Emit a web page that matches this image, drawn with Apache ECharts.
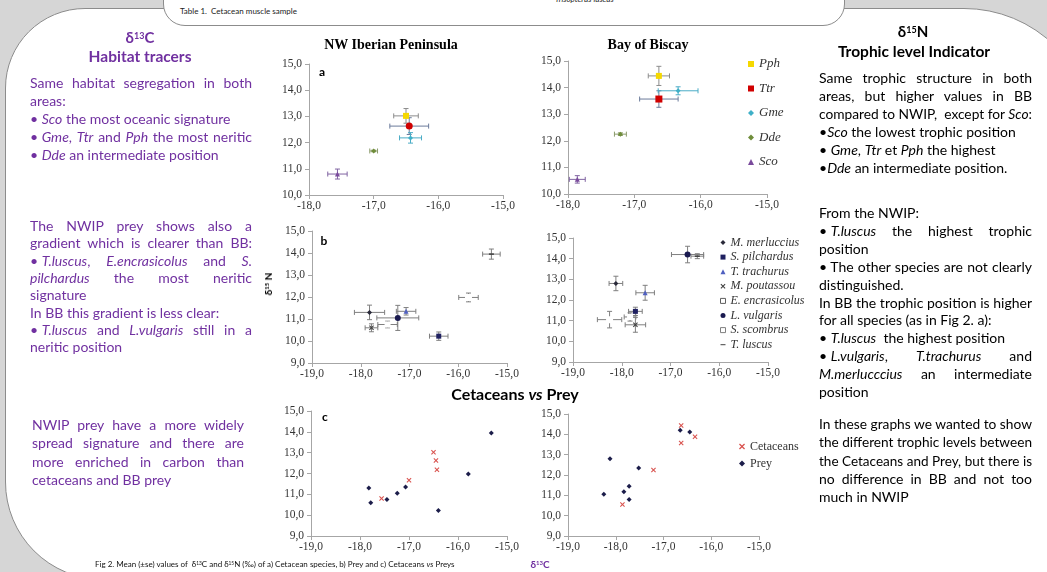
<!DOCTYPE html>
<html><head><meta charset="utf-8">
<script src="https://cdn.jsdelivr.net/npm/echarts@6/dist/echarts.min.js"></script>
<style>
html,body{margin:0;padding:0;width:1047px;height:572px;overflow:hidden;background:#d6d6d6;font-family:Lato,'Open Sans',sans-serif;}
#panel{position:absolute;left:5px;top:8px;width:1087px;height:570px;background:#fff;border:1px solid #8c8c8c;border-radius:80px 130px 0 98px;}
#tbox{position:absolute;left:163px;top:-30px;width:680px;height:54px;background:#fff;border:1px solid #8c8c8c;border-radius:0 0 22px 22px;}
#chart{position:absolute;left:0;top:0;width:1047px;height:572px;}
.t{position:absolute;white-space:nowrap;}
.c{transform:translate(-50%,-50%);}
.ln{position:absolute;height:18px;line-height:18px;white-space:nowrap;}
.ib{display:inline-block;}
sup{font-size:0.6em;vertical-align:0.5em;line-height:0;}
</style></head>
<body>
<div id="panel"></div>
<div id="tbox"></div>
<div class="t" style="left:180px;top:6px;font-size:8px;color:#222;">Table 1.&nbsp; Cetacean muscle sample</div>
<div class="t" style="left:555px;top:-6px;font-size:8px;color:#222;font-style:italic;">Trisopterus luscus</div>
<div id="chart"></div>
<div id="texts"></div>
<script>
// ---------------- DATA ----------------
const cetSpecies = ['Pph','Ttr','Gme','Dde','Sco'];
const nwipCetC   = [-16.50,-16.45,-16.43,-17.00,-17.56];
const nwipCetN   = [13.02,12.63,12.18,11.68,10.80];
const nwipCetCse = [0.19,0.30,0.17,0.06,0.15];
const nwipCetNse = [0.28,0.32,0.20,0.03,0.19];
const bbCetC     = [-16.63,-16.63,-16.34,-17.21,-17.86];
const bbCetN     = [14.44,13.57,13.88,12.25,10.55];
const bbCetCse   = [0.16,0.29,0.30,0.09,0.12];
const bbCetNse   = [0.36,0.31,0.15,0.05,0.14];

const preySpecies = ['M. merluccius','S. pilchardus','T. trachurus','M. poutassou','E. encrasicolus','L. vulgaris','S. scombrus','T. luscus'];
const nwipPreyC   = [-17.82,-16.40,-17.07,-17.78,-15.79,-17.24,-17.45,-15.32];
const nwipPreyN   = [11.30,10.22,11.35,10.60,11.98,11.05,10.75,13.95];
const nwipPreyCse = [0.31,0.19,0.20,0.13,0.20,0.43,0.20,0.18];
const nwipPreyNse = [0.33,0.19,0.17,0.18,0.20,0.57,0.15,0.23];
const bbPreyC     = [-18.12,-17.72,-17.52,-17.72,-18.25,-16.65,-17.83,-16.45];
const bbPreyN     = [12.80,11.45,12.35,10.80,11.05,14.20,11.18,14.12];
const bbPreyCse   = [0.14,0.14,0.19,0.21,0.25,0.33,0.12,0.13];
const bbPreyNse   = [0.35,0.20,0.36,0.36,0.40,0.40,0.20,0.12];

const groupNames = ['Cetaceans','Prey'];
const xMinA = -18, xMinBC = -19, xMax = -15;
const yMinA = 10, yMinBC = 9, yMax = 15;

// ---------------- STYLES ----------------
const cetColor = ['#f5d800','#d00000','#3fb0c8','#6f8d3a','#7a4a9c'];
const cetErrColor = ['#8c8c8c','#6b7b9b','#4bacc6','#8a9a6a','#8064a2'];
const cetSymNW = ['rect','circle','diamond','diamond','triangle'];
const cetSymBB = ['rect','rect','diamond','diamond','triangle'];
const cetSize = [6,7,5,5,5];
const X_PATH = 'path://M0,1.5L1.5,0L5,3.5L8.5,0L10,1.5L6.5,5L10,8.5L8.5,10L5,6.5L1.5,10L0,8.5L3.5,5Z';
const DASH_PATH = 'path://M0,0L10,0L10,2L0,2Z';
const preyColor = ['#2a2a3a','#1f2060','#5060c0','#404040','#606060','#1a1a50','#808080','#404040'];
const preySym = ['diamond','rect','triangle',X_PATH,'emptyRect','circle','emptyRect',DASH_PATH];
const preySize = [5,5,5,5,5,6,4,[5,1.5]];

// ---------------- TEXT ----------------
const P = '#7030a0';
const html = [];
function add(s){html.push(s);}
add(`<div class="t c" style="left:140px;top:37px;color:${P};font-weight:bold;font-size:15px;">δ<sup>13</sup>C</div>`);
add(`<div class="t c" style="left:140px;top:56px;color:${P};font-weight:bold;font-size:15.5px;">Habitat tracers</div>`);
add(`<div class="t c" style="left:913px;top:31px;color:#000;font-weight:bold;font-size:15px;">δ<sup>15</sup>N</div>`);
add(`<div class="t c" style="left:914px;top:51px;color:#000;font-weight:bold;font-size:15.5px;">Trophic level Indicator</div>`);
add(`<div class="t c" style="left:391px;top:45px;color:#000;font-weight:bold;font-size:14px;font-family:'Liberation Serif',serif;">NW Iberian Peninsula</div>`);
add(`<div class="t c" style="left:648px;top:45px;color:#000;font-weight:bold;font-size:14px;font-family:'Liberation Serif',serif;">Bay of Biscay</div>`);
add(`<div class="t c" style="left:322px;top:71px;color:#000;font-weight:bold;font-size:12px;">a</div>`);
add(`<div class="t c" style="left:324px;top:240px;color:#000;font-weight:bold;font-size:12px;">b</div>`);
add(`<div class="t c" style="left:325px;top:416px;color:#000;font-weight:bold;font-size:12px;">c</div>`);
add(`<div class="t c" style="left:515px;top:393px;color:#000;font-weight:bold;font-size:16px;">Cetaceans <i>vs</i> Prey</div>`);
add(`<div class="t c" style="left:268px;top:284px;color:#000;font-weight:bold;font-size:10px;transform:translate(-50%,-50%) rotate(-90deg);">δ<sup>15</sup> N</div>`);
add(`<div class="t c" style="left:540px;top:564px;color:${P};font-weight:bold;font-size:10px;">δ<sup>13</sup>C</div>`);
add(`<div class="t" style="left:95px;top:559px;color:#111;font-size:8px;">Fig 2. Mean (±se) values of&nbsp; δ<sup>13</sup>C and δ<sup>15</sup>N (‰) of a) Cetacean species, b) Prey and c) Cetaceans <i>vs</i> Preys</div>`);

const blocks = [
 {x:30,w:222,y0:83,step:17.9,color:P,lines:[
  ['Same habitat segregation in both',1],
  ['areas:',0],
  ['•&nbsp;<i>Sco</i> the most oceanic signature',0],
  ['•&nbsp;<i>Gme</i>, <i>Ttr</i> and <i>Pph</i> the most neritic',1],
  ['•&nbsp;<i>Dde</i> an intermediate position',0]]},
 {x:30,w:222,y0:226,step:17.3,color:P,lines:[
  ['The NWIP prey shows also a',1],
  ['gradient which is clearer than BB:',1],
  ['•&nbsp;<i>T.luscus</i>, <i>E.encrasicolus</i> and <i>S.</i>',1],
  ['<i>pilchardus</i> the most neritic',1],
  ['signature',0],
  ['In BB this gradient is less clear:',0],
  ['•&nbsp;<i>T.luscus</i> and <i>L.vulgaris</i> still in a',1],
  ['neritic position',0]]},
 {x:32,w:212,y0:425,step:18.3,color:P,lines:[
  ['NWIP prey have a more widely',1],
  ['spread signature and there are',1],
  ['more enriched in carbon than',1],
  ['cetaceans and BB prey',0]]},
 {x:819,w:213,y0:78,step:18,color:'#000',lines:[
  ['Same trophic structure in both',1],
  ['areas, but higher values in BB',1],
  ['compared to NWIP,&nbsp; except for <i>Sco</i>:',1],
  ['•<i>Sco</i> the lowest trophic position',0],
  ['•&nbsp;<i>Gme</i>, <i>Ttr</i> et <i>Pph</i> the highest',0],
  ['•<i>Dde</i> an intermediate position.',0]]},
 {x:819,w:213,y0:213,step:17.9,color:'#000',lines:[
  ['From the NWIP:',0],
  ['•&nbsp;<i>T.luscus</i> the highest trophic',1],
  ['position',0],
  ['•&nbsp;The other species are not clearly',1],
  ['distinguished.',0],
  ['In BB the trophic position is higher',1],
  ['for all species (as in Fig 2. a):',0],
  ['•&nbsp;<i>T.luscus</i>&nbsp; the highest position',0],
  ['•&nbsp;<i>L.vulgaris</i>, <i>T.trachurus</i> and',1],
  ['<i>M.merlucccius</i> an intermediate',1],
  ['position',0]]},
 {x:819,w:213,y0:424,step:18.25,color:'#000',lines:[
  ['In these graphs we wanted to show',1],
  ['the different trophic levels between',1],
  ['the Cetaceans and Prey, but there is',1],
  ['no difference in BB and not too',1],
  ['much in NWIP',0]]}
];
blocks.forEach(b=>b.lines.forEach((l,i)=>{
  const txt = l[0].replace(/^•&nbsp;(<i>[^<]*<\/i>,?|[^\s<]+)/, '<span class="ib">•&nbsp;$1</span>');
  add(`<div class="ln${l[1]?' j':''}" style="left:${b.x}px;top:${(b.y0+i*b.step-9).toFixed(1)}px;width:${b.w}px;color:${b.color};font-size:14px;"><span>${txt}</span></div>`);
}));
document.getElementById('texts').innerHTML = html.join('');
function fit(){
  document.querySelectorAll('.ln').forEach(el=>{
    const s = el.firstChild; const W = el.clientWidth;
    const w = s.getBoundingClientRect().width;
    if (w > W) { s.style.display='inline-block'; s.style.transformOrigin='left center'; s.style.transform=`scaleX(${W/w})`; }
    else if (el.classList.contains('j')) { el.innerHTML = s.innerHTML; el.style.whiteSpace='normal'; el.style.textAlign='justify'; el.style.textAlignLast='justify'; }
  });
}
if (document.fonts && document.fonts.ready) document.fonts.ready.then(fit); else fit();

// ---------------- CHART ----------------
const fmt = v => v.toFixed(1).replace('.', ',');
const axisCol = '#a6a6a6';
function xAx(gi,min){return {type:'value',gridIndex:gi,min:min,max:xMax,interval:1,
  axisLine:{show:true,onZero:false,lineStyle:{color:axisCol,width:1}},
  axisTick:{show:true,length:4,lineStyle:{color:axisCol}},
  splitLine:{show:false},
  axisLabel:{formatter:fmt,color:'#333',fontFamily:'Liberation Serif',fontSize:11.5,margin:5}};}
function yAx(gi,min){return {type:'value',gridIndex:gi,min:min,max:yMax,interval:1,
  axisLine:{show:true,onZero:false,lineStyle:{color:axisCol,width:1}},
  axisTick:{show:true,length:4,lineStyle:{color:axisCol}},
  splitLine:{show:false},
  axisLabel:{formatter:fmt,color:'#333',fontFamily:'Liberation Serif',fontSize:11.5,margin:7}};}

const grids = [
 {left:309,top:64,width:194,height:131},
 {left:568,top:61,width:199,height:133},
 {left:312,top:231,width:195,height:132},
 {left:573,top:238,width:195,height:124},
 {left:311,top:411,width:196,height:125},
 {left:568,top:414,width:191,height:122}
];
const xAxes = [xAx(0,xMinA),xAx(1,xMinA),xAx(2,xMinBC),xAx(3,xMinBC),xAx(4,xMinBC),xAx(5,xMinBC)];
const yAxes = [yAx(0,yMinA),yAx(1,yMinA),yAx(2,yMinBC),yAx(3,yMinBC),yAx(4,yMinBC),yAx(5,yMinBC)];

const series = [];
function errSeries(gi,C,N,Cse,Nse,colors){
  series.push({type:'custom',name:'err'+gi,xAxisIndex:gi,yAxisIndex:gi,silent:true,z:2,
    data:C.map((c,i)=>[c,N[i],Cse[i],Nse[i],i]),
    encode:{x:0,y:1},
    renderItem:function(params,api){
      const x=api.value(0),y=api.value(1),ex=api.value(2),ey=api.value(3),k=api.value(4);
      const l=api.coord([x-ex,y]),r=api.coord([x+ex,y]),t=api.coord([x,y+ey]),b=api.coord([x,y-ey]);
      const st={stroke:colors[k],lineWidth:1,fill:null};
      const cap=2.5;
      return {type:'group',children:[
        {type:'line',shape:{x1:l[0],y1:l[1],x2:r[0],y2:r[1]},style:st},
        {type:'line',shape:{x1:t[0],y1:t[1],x2:b[0],y2:b[1]},style:st},
        {type:'line',shape:{x1:l[0],y1:l[1]-cap,x2:l[0],y2:l[1]+cap},style:st},
        {type:'line',shape:{x1:r[0],y1:r[1]-cap,x2:r[0],y2:r[1]+cap},style:st},
        {type:'line',shape:{x1:t[0]-cap,y1:t[1],x2:t[0]+cap,y2:t[1]},style:st},
        {type:'line',shape:{x1:b[0]-cap,y1:b[1],x2:b[0]+cap,y2:b[1]},style:st}
      ]};
    }});
}
// a
errSeries(0,nwipCetC,nwipCetN,nwipCetCse,nwipCetNse,cetErrColor);
errSeries(1,bbCetC,bbCetN,bbCetCse,bbCetNse,cetErrColor);
cetSpecies.forEach((sp,i)=>{
  series.push({type:'scatter',name:sp,xAxisIndex:0,yAxisIndex:0,z:3,silent:true,
    symbol:cetSymNW[i],symbolSize:cetSize[i],itemStyle:{color:cetColor[i],opacity:1},data:[[nwipCetC[i],nwipCetN[i]]]});
  series.push({type:'scatter',name:sp,xAxisIndex:1,yAxisIndex:1,z:3,silent:true,
    symbol:cetSymBB[i],symbolSize:cetSize[i],itemStyle:{color:cetColor[i],opacity:1},data:[[bbCetC[i],bbCetN[i]]]});
});
// b
const grayErr = preySpecies.map(()=> '#7f7f7f');
errSeries(2,nwipPreyC,nwipPreyN,nwipPreyCse,nwipPreyNse,grayErr);
errSeries(3,bbPreyC,bbPreyN,bbPreyCse,bbPreyNse,grayErr);
preySpecies.forEach((sp,i)=>{
  const st = preySym[i]==='emptyRect' ? {color:'#fff',borderColor:preyColor[i],borderWidth:1,opacity:1} : {color:preyColor[i],opacity:1};
  series.push({type:'scatter',name:sp,xAxisIndex:2,yAxisIndex:2,z:3,silent:true,
    symbol:preySym[i],symbolSize:preySize[i],itemStyle:st,data:[[nwipPreyC[i],nwipPreyN[i]]]});
  series.push({type:'scatter',name:sp,xAxisIndex:3,yAxisIndex:3,z:3,silent:true,
    symbol:preySym[i],symbolSize:preySize[i],itemStyle:st,data:[[bbPreyC[i],bbPreyN[i]]]});
});
// c
const cetMark = {symbol:X_PATH,symbolSize:5,itemStyle:{color:'#d9534f',opacity:1}};
const preyMark = {symbol:'diamond',symbolSize:5,itemStyle:{color:'#1c1d4a',opacity:1}};
[[4,nwipCetC,nwipCetN,nwipPreyC,nwipPreyN],[5,bbCetC,bbCetN,bbPreyC,bbPreyN]].forEach(([gi,cc,cn,pc,pn])=>{
  series.push(Object.assign({type:'scatter',name:groupNames[0],xAxisIndex:gi,yAxisIndex:gi,z:3,silent:true,
    data:cc.map((v,i)=>[v,cn[i]])},cetMark));
  series.push(Object.assign({type:'scatter',name:groupNames[1],xAxisIndex:gi,yAxisIndex:gi,z:3,silent:true,
    data:pc.map((v,i)=>[v,pn[i]])},preyMark));
});

const legText = {fontFamily:'Liberation Serif',color:'#333'};
const preyLegend = preySpecies.map((n,i)=> preySym[i]==='emptyRect'
  ? {name:n,icon:'rect',itemStyle:{color:'#fff',borderColor:preyColor[i],borderWidth:1}}
  : (i===7 ? {name:n,icon:'path://M0,4L10,4L10,6L0,6Z'} : {name:n}));
const option = {
  animation:false,
  grid:grids, xAxis:xAxes, yAxis:yAxes, series:series,
  legend:[
    {data:cetSpecies.map((n,i)=>({name:n,icon:cetSymBB[i]})),orient:'vertical',left:743,top:52,itemWidth:6,itemHeight:6,itemGap:10.5,selectedMode:false,
     textStyle:Object.assign({fontStyle:'italic',fontSize:13,lineHeight:14},legText)},
    {data:preyLegend,orient:'vertical',left:715,top:231,itemWidth:5,itemHeight:5,itemGap:1.6,selectedMode:false,
     textStyle:Object.assign({fontStyle:'italic',fontSize:12,lineHeight:13},legText)},
    {data:groupNames,orient:'vertical',left:734,top:435,itemWidth:6,itemHeight:6,itemGap:4,selectedMode:false,
     textStyle:Object.assign({fontSize:12,lineHeight:13},legText)}
  ]
};
const chart = echarts.init(document.getElementById('chart'));
chart.setOption(option);
</script>
</body></html>
